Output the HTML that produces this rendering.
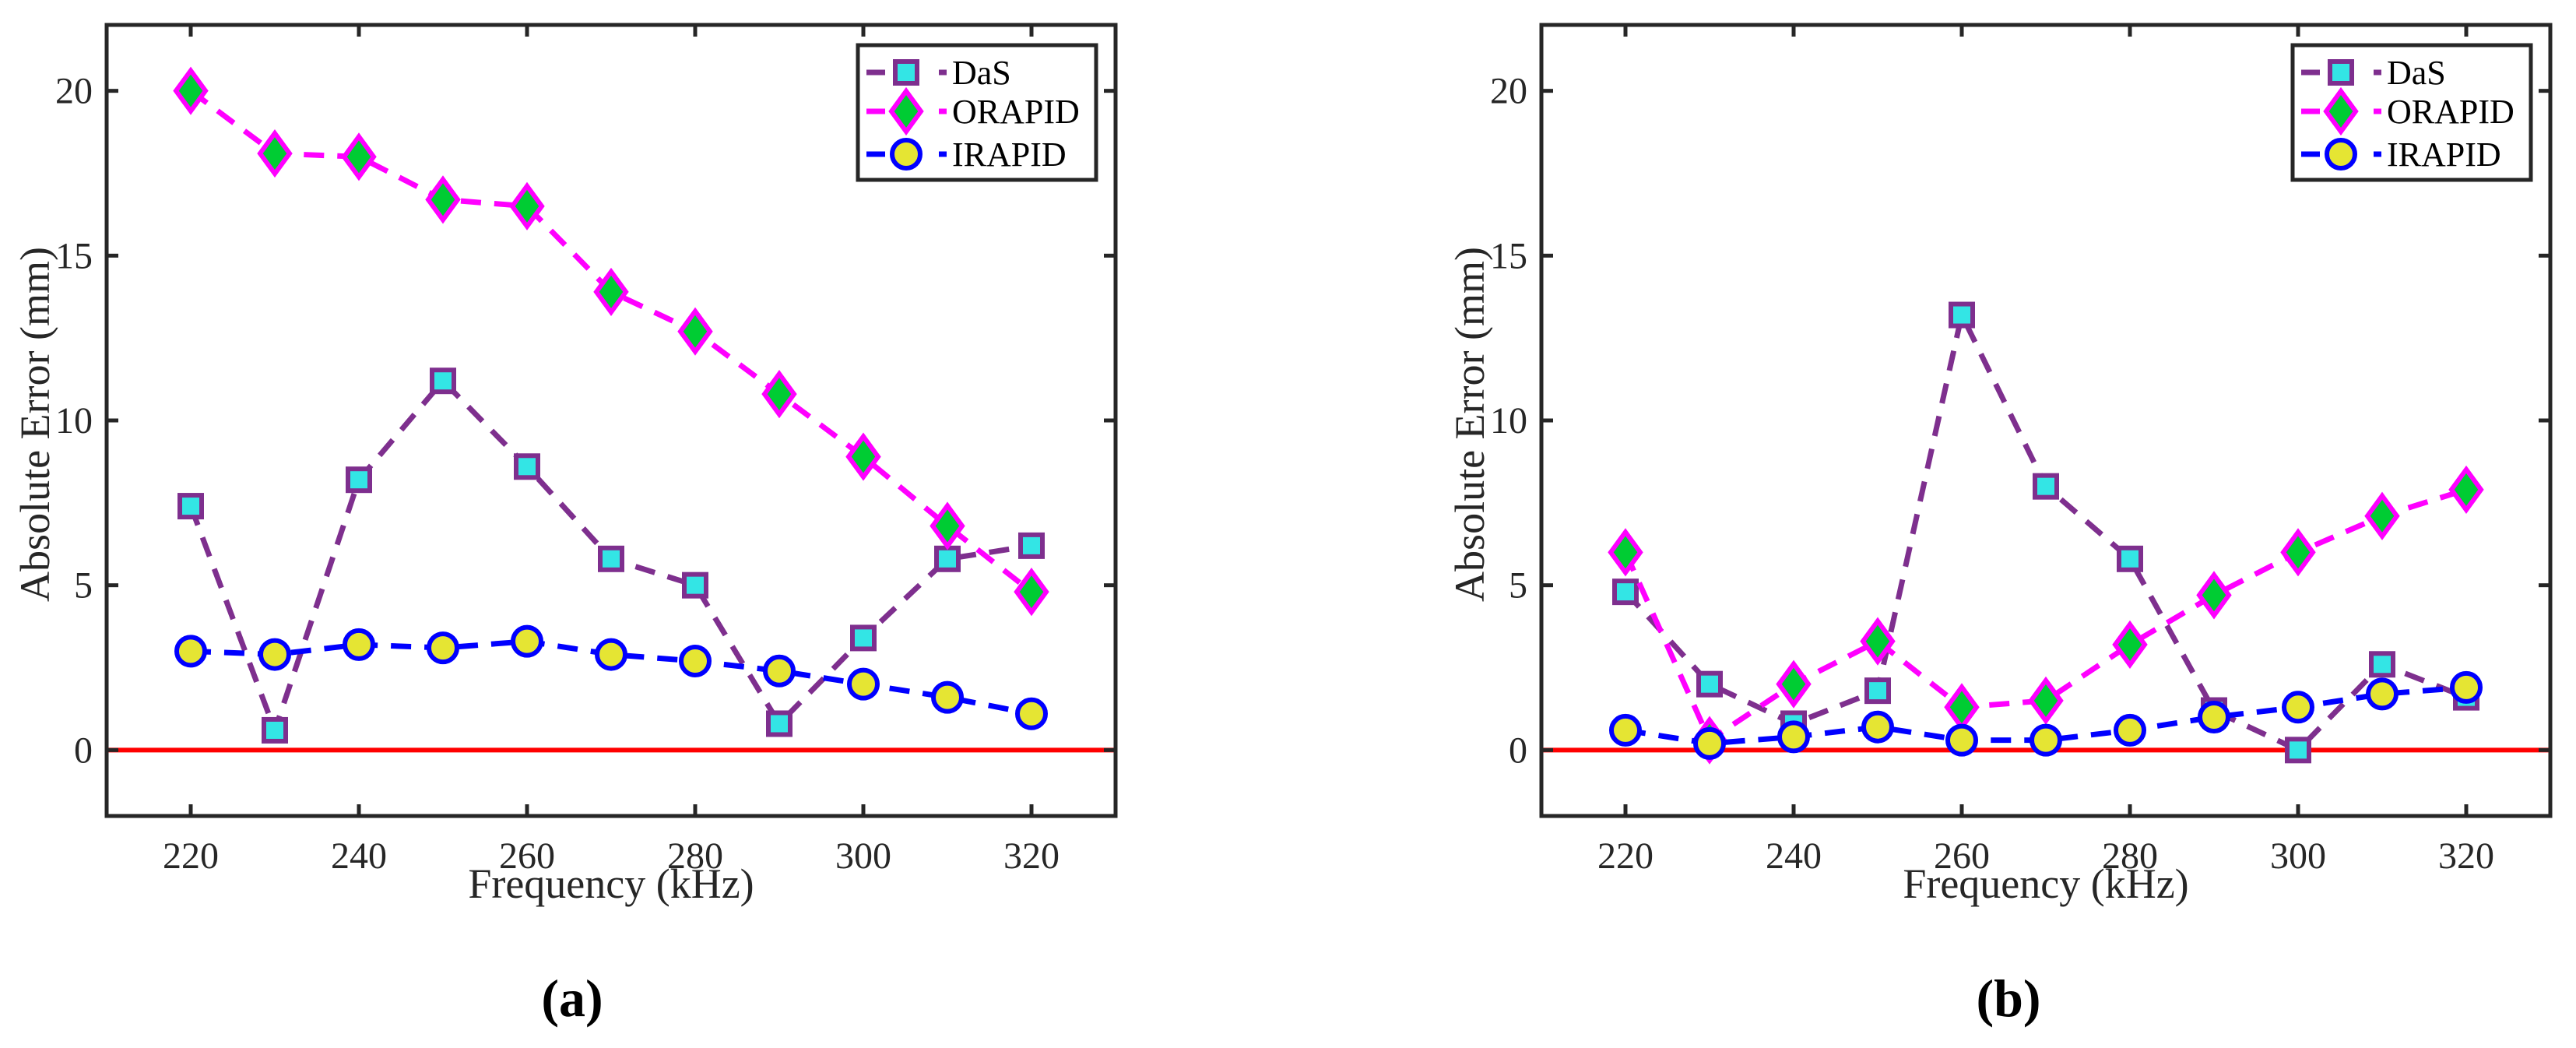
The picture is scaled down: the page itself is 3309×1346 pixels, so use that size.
<!DOCTYPE html>
<html><head><meta charset="utf-8"><style>
html,body{margin:0;padding:0;background:#fff;}
svg{display:block;font-family:"Liberation Serif",serif;}
</style></head><body>
<svg id="fig" width="3309" height="1346" viewBox="0 0 3309 1346" xmlns="http://www.w3.org/2000/svg"></svg>
<script>
const freqs = [220,230,240,250,260,270,280,290,300,310,320];
const yTicks = [0,5,10,15,20];
const xTicks = [220,240,260,280,300,320];
const dasA = [7.4,0.6,8.2,11.2,8.6,5.8,5.0,0.8,3.4,5.8,6.2];
const orapidA = [20,18.1,18,16.7,16.5,13.9,12.7,10.8,8.9,6.8,4.8];
const irapidA = [3.0,2.9,3.2,3.1,3.3,2.9,2.7,2.4,2.0,1.6,1.1];
const dasB = [4.8,2.0,0.8,1.8,13.2,8.0,5.8,1.2,0.0,2.6,1.6];
const orapidB = [6.0,0.3,2.0,3.3,1.3,1.5,3.2,4.7,6.0,7.1,7.9];
const irapidB = [0.6,0.2,0.4,0.7,0.3,0.3,0.6,1.0,1.3,1.7,1.9];
const seriesNames = ["DaS","ORAPID","IRAPID"];

const NS="http://www.w3.org/2000/svg";
const svg=document.getElementById('fig');
function mk(tag,attrs,parent){const e=document.createElementNS(NS,tag);for(const k in attrs)e.setAttribute(k,attrs[k]);(parent||svg).appendChild(e);return e;}

const styles={
 DaS:{line:"#7E2F8E",face:"#33E5E5",marker:"square"},
 ORAPID:{line:"#FF00FF",face:"#00CC33",marker:"diamond"},
 IRAPID:{line:"#0000FF",face:"#E5E533",marker:"circle"}
};

function marker(g,type,cx,cy,st,name){
  let m;
  if(type==="square"){
    m=mk('rect',{x:cx-14,y:cy-14,width:28,height:28,fill:st.face,stroke:st.line,'stroke-width':6},g);
  }else if(type==="diamond"){
    m=mk('polygon',{points:`${cx},${cy-26} ${cx+19},${cy} ${cx},${cy+26} ${cx-19},${cy}`,fill:st.face,stroke:st.line,'stroke-width':6},g);
  }else{
    m=mk('circle',{cx:cx,cy:cy,r:18,fill:st.face,stroke:st.line,'stroke-width':6},g);
  }
  
  
}

function panel(id,left,label,labelX,data){
  const right=left+1296, top=32, bottom=1048;
  const xs=v=>left+(v-210)*(right-left)/120;
  const ys=v=>bottom-(v+2)*(bottom-top)/24;
  const g=mk('g',{});
  
  
  const z=mk('line',{x1:left,x2:right,y1:ys(0),y2:ys(0),stroke:"#FF0000",'stroke-width':6},g);
  
  
  seriesNames.forEach((nm,si)=>{
    const st=styles[nm]; const vals=data[si];
    const sg=mk('g',{},g);
    
    
    const pts=vals.map((v,i)=>xs(freqs[i])+","+ys(v)).join(" ");
    const pl=mk('polyline',{points:pts,fill:"none",stroke:st.line,'stroke-width':7,'stroke-dasharray':"26 17"},sg);
    
    
    vals.forEach((v,i)=>marker(sg,st.marker,xs(freqs[i]),ys(v),st,nm.toLowerCase()+'-point-'+freqs[i]));
  });
  const box=mk('rect',{x:left,y:top,width:right-left,height:bottom-top,fill:"none",stroke:"#262626",'stroke-width':5},g);
  
  
  yTicks.forEach(t=>{
    const y=ys(t);
    mk('line',{x1:left,x2:left+15,y1:y,y2:y,stroke:"#262626",'stroke-width':5},g);
    mk('line',{x1:right,x2:right-15,y1:y,y2:y,stroke:"#262626",'stroke-width':5},g);
    const tx=mk('text',{x:left-18,y:y+16,'font-size':48,'text-anchor':'end',fill:"#262626"},g);
    tx.textContent=t;
    
    
  });
  xTicks.forEach(t=>{
    const x=xs(t);
    mk('line',{x1:x,x2:x,y1:bottom,y2:bottom-15,stroke:"#262626",'stroke-width':5},g);
    mk('line',{x1:x,x2:x,y1:top,y2:top+15,stroke:"#262626",'stroke-width':5},g);
    const tx=mk('text',{x:x,y:1115,'font-size':48,'text-anchor':'middle',fill:"#262626"},g);
    tx.textContent=t;
    
    
  });
  const xl=mk('text',{x:(left+right)/2,y:1153,'font-size':54,'text-anchor':'middle',fill:"#262626"},g);
  xl.textContent="Frequency (kHz)";
  
  
  const yl=mk('text',{x:0,y:0,'font-size':54,'text-anchor':'middle',fill:"#262626",transform:`translate(${left-74},${(top+bottom)/2+5}) rotate(-90)`},g);
  yl.textContent="Absolute Error (mm)";
  
  
  const lg=mk('g',{},g);
  
  
  const lr=right-25, ll=lr-306;
  mk('rect',{x:ll,y:58,width:306,height:173,fill:"#fff",stroke:"#262626",'stroke-width':5},lg);
  const rows=[93,143,198];
  seriesNames.forEach((nm,i)=>{
    const st=styles[nm]; const cy=rows[i];
    const e=mk('g',{},lg);
    
    
    mk('line',{x1:ll+11,x2:ll+35,y1:cy,y2:cy,stroke:st.line,'stroke-width':7},e);
    mk('line',{x1:ll+104,x2:ll+114,y1:cy,y2:cy,stroke:st.line,'stroke-width':7},e);
    marker(e,st.marker,ll+62,cy,st,'legend-marker-'+nm.toLowerCase());
    const t=mk('text',{x:ll+121,y:cy+15,'font-size':44,fill:"#000"},e);
    t.textContent=nm;
    
    
  });
  const pl=mk('text',{x:labelX,y:1305,'font-size':68,'font-weight':'bold','text-anchor':'middle',fill:"#000"},g);
  pl.textContent=label;
  
  
}
panel('a',137,'(a)',735,[dasA,orapidA,irapidA]);
panel('b',1980,'(b)',2580,[dasB,orapidB,irapidB]);
</script>
</body></html>
